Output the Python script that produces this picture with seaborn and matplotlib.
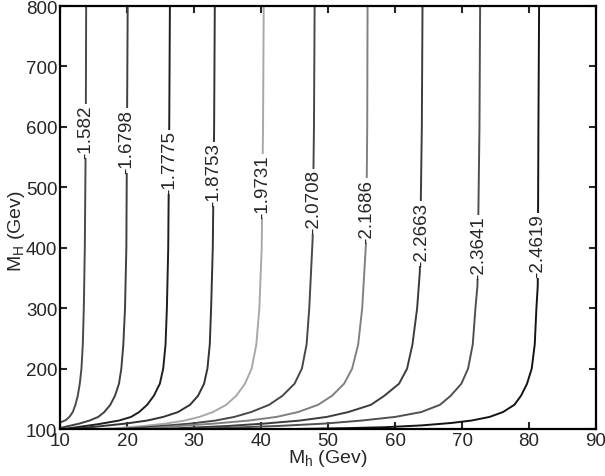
import matplotlib
matplotlib.use("Agg")
import matplotlib.pyplot as plt
import pandas as pd
import seaborn as sns

# contour levels and their grey shades
levels = ["-1.582", "-1.6798", "-1.7775", "-1.8753", "-1.9731",
          "-2.0708", "-2.1686", "-2.2663", "-2.3641", "-2.4619"]
shades = ["#4a4a4a", "#404040", "#1e1e1e", "#333333", "#a8a8a8",
          "#484848", "#808080", "#3c3c3c", "#505050", "#141414"]

# each contour: M_H (y) and M_h (x)
MH_1 = [800, 600, 400, 300, 240, 200, 175, 155, 140, 128, 120, 115, 112, 111]
Mh_1 = [13.9, 13.85, 13.7, 13.55, 13.4, 13.2, 12.95, 12.65, 12.3, 11.9, 11.4, 10.9, 10.3, 10.0]

MH_2 = [800, 600, 400, 300, 240, 200, 175, 155, 140, 128, 120, 114, 109, 105, 101.6]
Mh_2 = [20.1, 20.0, 19.9, 19.7, 19.45, 19.15, 18.8, 18.2, 17.5, 16.6, 15.7, 14.4, 12.9, 11.3, 10.0]

MH_3 = [800, 600, 400, 300, 240, 200, 175, 155, 140, 128, 120, 114, 108, 103, 100]
Mh_3 = [26.4, 26.3, 26.15, 25.95, 25.75, 25.4, 24.9, 24.0, 23.0, 21.8, 20.6, 18.8, 15.7, 12.5, 10.5]

MH_4 = [800, 600, 400, 300, 240, 200, 175, 155, 140, 128, 120, 114, 109, 104, 100]
Mh_4 = [33.1, 33.0, 32.8, 32.55, 32.35, 32.0, 31.5, 30.6, 29.4, 27.6, 25.4, 23.0, 19.8, 15.5, 11.5]

MH_5 = [800, 600, 400, 300, 240, 200, 175, 155, 140, 128, 120, 114, 109, 105, 101.5, 100]
Mh_5 = [40.4, 40.3, 40.1, 39.75, 39.3, 38.6, 37.6, 36.3, 34.8, 32.8, 30.8, 28.6, 25.8, 22.5, 18.5, 16.0]

MH_6 = [800, 600, 414, 300, 240, 200, 175, 155, 140, 128, 120, 114, 109, 104, 100]
Mh_6 = [48.0, 47.9, 47.7, 47.2, 46.8, 46.1, 45.0, 43.2, 41.2, 38.5, 36.0, 33.2, 29.5, 24.0, 19.0]

MH_7 = [800, 600, 414, 300, 240, 200, 175, 155, 140, 128, 120, 114, 109, 104, 100]
Mh_7 = [55.9, 55.85, 55.7, 55.1, 54.5, 53.6, 52.4, 50.6, 48.5, 45.5, 42.3, 38.2, 33.0, 26.5, 22.0]

MH_8 = [800, 600, 360, 300, 240, 200, 175, 155, 140, 128, 120, 114, 109, 105, 102, 100]
Mh_8 = [64.1, 64.0, 63.7, 63.3, 62.6, 61.8, 60.6, 58.4, 56.4, 53.0, 49.8, 45.8, 40.5, 35.0, 29.0, 25.0]

MH_9 = [800, 600, 337, 300, 240, 200, 175, 155, 140, 128, 120, 114, 109, 105, 102.5, 100]
Mh_9 = [72.7, 72.6, 72.3, 72.0, 71.6, 70.9, 69.9, 68.3, 66.7, 63.9, 60.0, 55.0, 49.5, 42.5, 36.0, 29.0]

MH_10 = [800, 600, 337, 300, 240, 200, 175, 155, 140, 128, 120, 114, 110, 106, 103, 101.5, 100]
Mh_10 = [81.5, 81.4, 81.3, 81.1, 80.85, 80.4, 79.7, 78.8, 77.8, 76.1, 74.1, 71.4, 68.4, 64.0, 58.5, 53.0, 45.0]

# where each inline label sits (M_h, M_H)
label_Mh = [13.85, 20.0, 26.3, 33.0, 40.2, 47.8, 55.75, 63.9, 72.45, 81.35]
label_MH = [593, 577, 542, 522, 502, 477, 461, 423, 401, 404]

curves = [(MH_1, Mh_1), (MH_2, Mh_2), (MH_3, Mh_3), (MH_4, Mh_4), (MH_5, Mh_5),
          (MH_6, Mh_6), (MH_7, Mh_7), (MH_8, Mh_8), (MH_9, Mh_9), (MH_10, Mh_10)]

frames = []
for lev, (yy, xx) in zip(levels, curves):
    frames.append(pd.DataFrame({"Mh": xx, "MH": yy, "level": lev}))
df = pd.concat(frames, ignore_index=True)

sns.set_style("ticks")
plt.rcParams["font.family"] = ["Liberation Sans", "DejaVu Sans"]
plt.rcParams["mathtext.fontset"] = "custom"
plt.rcParams["mathtext.rm"] = "Liberation Sans"
plt.rcParams["mathtext.it"] = "Liberation Sans:italic"

fig = plt.figure(figsize=(6.05, 4.77), dpi=100)
ax = fig.add_axes([0.0992, 0.0985, 0.8860, 0.8868])

sns.lineplot(data=df, x="Mh", y="MH", hue="level", palette=dict(zip(levels, shades)),
             sort=False, estimator=None, legend=False, linewidth=1.4, ax=ax)

for lev, lx, ly in zip(levels, label_Mh, label_MH):
    ax.text(lx, ly, lev, rotation=90, ha="center", va="center", fontsize=13.5,
            bbox=dict(facecolor="white", edgecolor="none", pad=0.3), zorder=5)

ax.set_xlim(10, 90)
ax.set_ylim(100, 800)
ax.set_xticks(range(10, 91, 10))
ax.set_yticks(range(100, 801, 100))
ax.tick_params(direction="in", length=5, width=1.5, top=True, right=True,
               labelsize=13.5, pad=2)
for s in ax.spines.values():
    s.set_linewidth(1.6)
    s.set_color("black")

ax.set_xlabel(r"M$_\mathrm{h}$ (Gev)", fontsize=14, labelpad=-1)
ax.set_ylabel(r"M$_\mathrm{H}$ (Gev)", fontsize=14, labelpad=1)
ax.yaxis.set_label_coords(-0.062, 0.47)

fig.savefig("out.png", dpi=100)
